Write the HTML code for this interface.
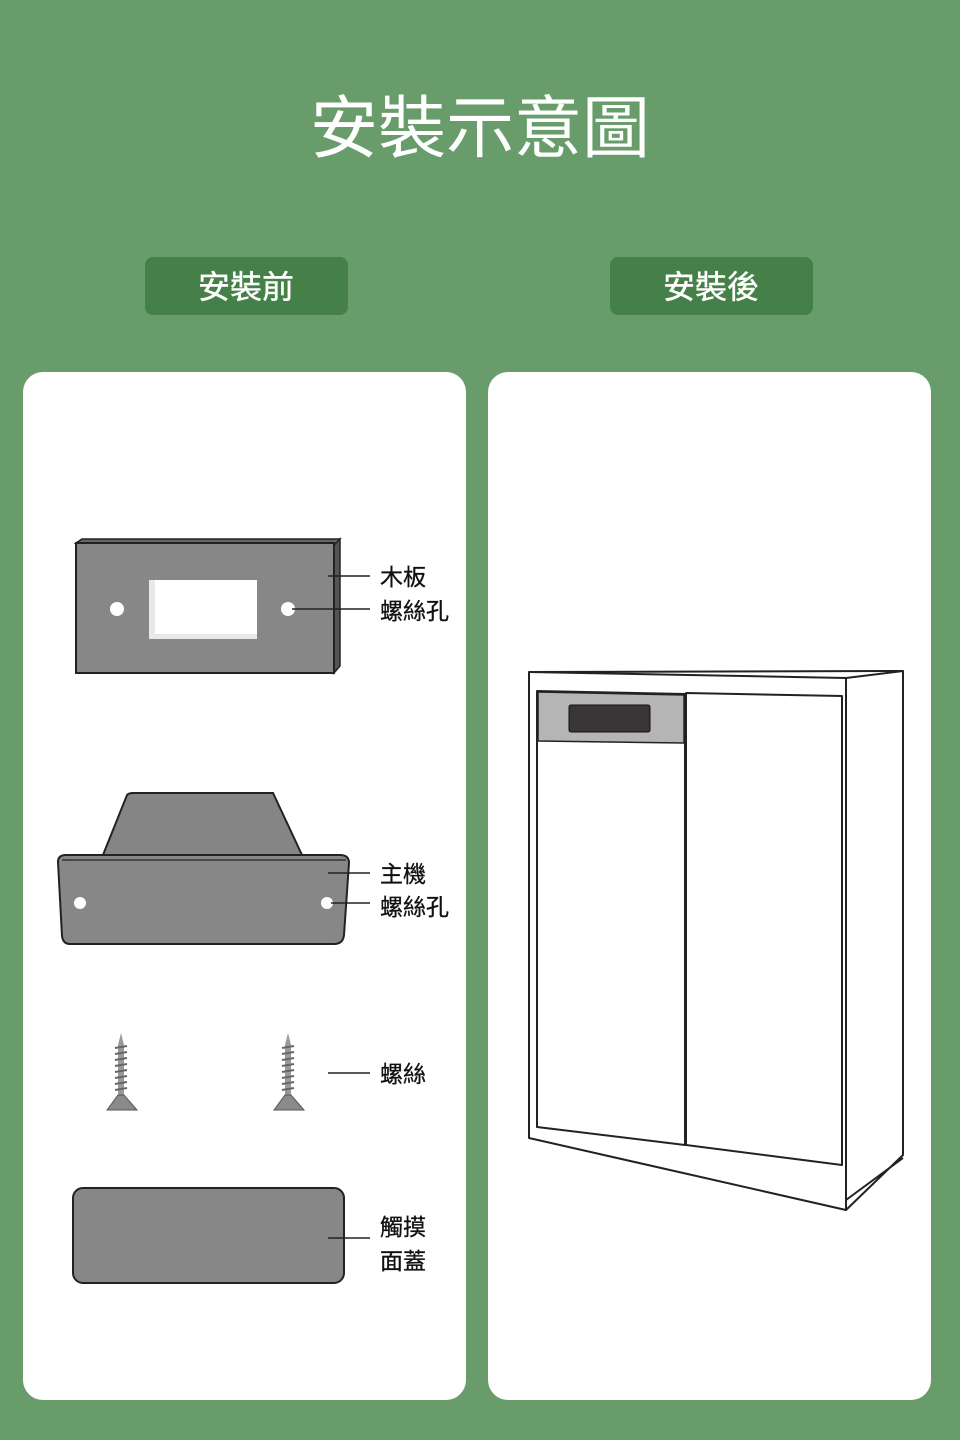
<!DOCTYPE html>
<html><head><meta charset="utf-8"><style>
body{margin:0;width:960px;height:1440px;background:#689d6b;overflow:hidden;font-family:"Liberation Sans","Noto Sans CJK TC",sans-serif}
svg{position:absolute;left:0;top:0}
</style></head><body>
<svg width="960" height="1440" viewBox="0 0 960 1440" font-family="'Liberation Sans','Noto Sans CJK TC',sans-serif">
<rect width="960" height="1440" fill="#689d6b"/>
<text x="480" y="152" text-anchor="middle" font-size="68" fill="#fff">安裝示意圖</text>
<rect x="145" y="257" width="203" height="58" rx="8" fill="#458048"/>
<rect x="610" y="257" width="203" height="58" rx="8" fill="#458048"/>
<text x="246" y="298" text-anchor="middle" font-size="32" fill="#fff" stroke="#fff" stroke-width="0.4">安裝前</text>
<text x="711" y="298" text-anchor="middle" font-size="32" fill="#fff" stroke="#fff" stroke-width="0.4">安裝後</text>
<rect x="23" y="372" width="443" height="1028" rx="20" fill="#fff"/>
<rect x="488" y="372" width="443" height="1028" rx="20" fill="#fff"/>

<!-- wood board -->
<polygon points="334,673 340,666 340,539 334,545" fill="#555" stroke="#222" stroke-width="1.5"/>
<polygon points="76,543 82,539 340,539 334,545" fill="#666" stroke="#222" stroke-width="1.5"/>
<rect x="76" y="543" width="258" height="130" fill="#878787" stroke="#222" stroke-width="2"/>
<rect x="149" y="580" width="108" height="59" fill="#e8e8e8"/>
<rect x="155" y="580" width="102" height="54" fill="#fff"/>
<circle cx="117" cy="609" r="7" fill="#fff"/>
<circle cx="288" cy="609" r="7" fill="#fff"/>
<line x1="328" y1="576" x2="370" y2="576" stroke="#222" stroke-width="1.5"/>
<line x1="292" y1="609" x2="370" y2="609" stroke="#222" stroke-width="1.5"/>
<g font-size="23" fill="#111" stroke="#111" stroke-width="0.3">
<text x="380" y="585">木板</text>
<text x="380" y="619">螺絲孔</text>
<text x="380" y="882">主機</text>
<text x="380" y="915">螺絲孔</text>
<text x="380" y="1082">螺絲</text>
<text x="380" y="1235">觸摸</text>
<text x="380" y="1269">面蓋</text>
</g>

<!-- host -->
<path d="M103,855 L127,795 Q129,793 133,793 L273,793 L302,855 Z" fill="#858585" stroke="#222" stroke-width="2"/>
<path d="M58,862 Q58,855 66,855 L340,855 Q349,855 349,863 L344,935 Q343,944 334,944 L70,944 Q63,944 62,936 Z" fill="#878787" stroke="#222" stroke-width="2"/>
<line x1="62" y1="860" x2="346" y2="860" stroke="#333" stroke-width="1.5"/>
<circle cx="80" cy="903" r="6" fill="#fff"/>
<circle cx="327" cy="903" r="6" fill="#fff"/>
<line x1="328" y1="873" x2="370" y2="873" stroke="#222" stroke-width="1.5"/>
<line x1="331" y1="903" x2="370" y2="903" stroke="#222" stroke-width="1.5"/>

<!-- screws -->
<g id="s">
<polygon points="121,1033 118,1045 118,1095 124,1095 124,1045" fill="#999"/>
<g stroke="#666" stroke-width="2">
<line x1="115" y1="1048" x2="127" y2="1046"/><line x1="115" y1="1054" x2="127" y2="1052"/><line x1="115" y1="1060" x2="127" y2="1058"/><line x1="115" y1="1066" x2="127" y2="1064"/><line x1="115" y1="1072" x2="127" y2="1070"/><line x1="115" y1="1078" x2="127" y2="1076"/><line x1="115" y1="1084" x2="127" y2="1082"/><line x1="115" y1="1090" x2="127" y2="1088"/>
</g>
<polygon points="118,1095 124,1095 137,1110 107,1110" fill="#8a8a8a" stroke="#555"/>
</g>
<use href="#s" x="167"/>
<line x1="328" y1="1073" x2="370" y2="1073" stroke="#222" stroke-width="1.5"/>

<!-- cover -->
<rect x="73" y="1188" width="271" height="95" rx="10" fill="#878787" stroke="#222" stroke-width="2"/>
<line x1="328" y1="1238" x2="370" y2="1238" stroke="#222" stroke-width="1.5"/>

<!-- cabinet -->
<g stroke="#222" stroke-width="2" fill="#fff" stroke-linejoin="round">
<polygon points="529,672 903,671 903,1155 846,1210 529,1138"/>
<polyline points="529,672 846,678 903,671" fill="none"/>
<line x1="846" y1="678" x2="846" y2="1210"/>
<line x1="846" y1="1200" x2="903" y2="1158"/>
<polygon points="537,691 685,694 685,1145 537,1127"/>
<polygon points="686,693 842,696 842,1165 686,1145"/>
</g>
<polygon points="538,692 684,695 684,743 538,741" fill="#b5b5b5" stroke="#222" stroke-width="1.5"/>
<rect x="569" y="705" width="81" height="27" rx="2" fill="#3a3536" stroke="#111"/>
</svg>
</body></html>
